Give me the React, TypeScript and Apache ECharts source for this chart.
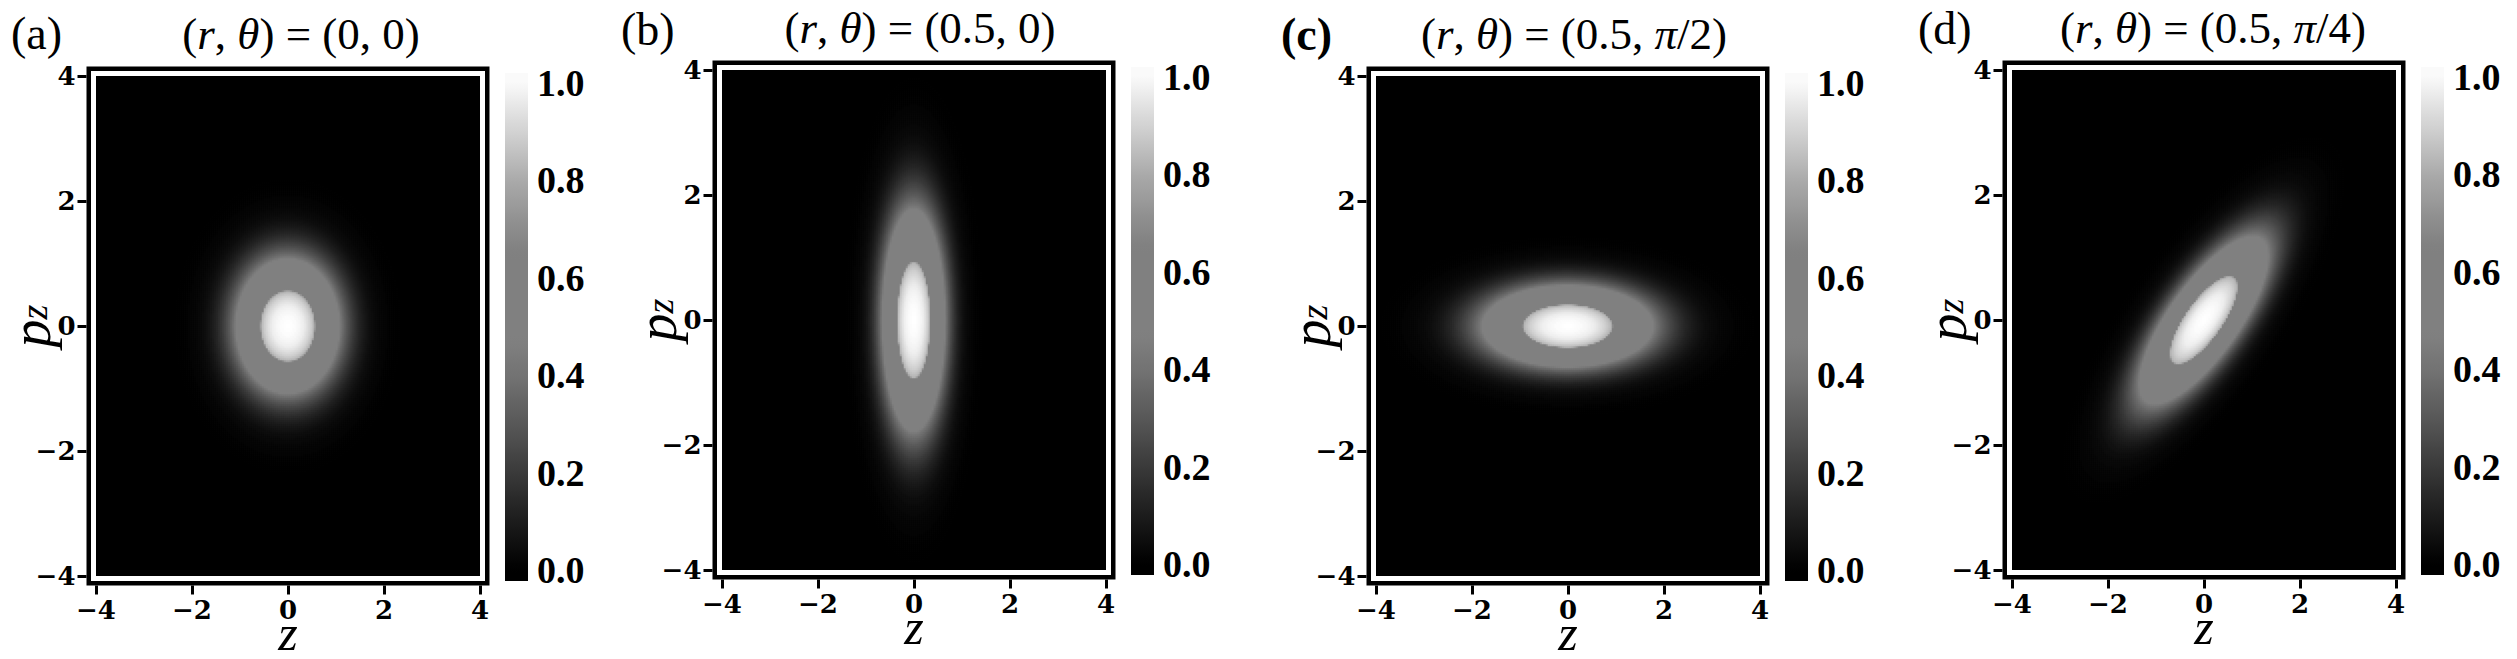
import React, { useEffect, useRef } from 'react';
import * as echarts from 'echarts';

// ---------------- data ----------------
const panelLetters = ['(a)', '(b)', '(c)', '(d)'];
const rLabels = ['0', '0.5', '0.5', '0.5'];
const thetaLabels = ['0', '0', 'π/2', 'π/4'];
const rValues = [0, 0.5, 0.5, 0.5];
const thetaValues = [0, 0, Math.PI / 2, Math.PI / 4];
const axisTicks = [-4, -2, 0, 2, 4];
const colorbarTicks = [0, 0.2, 0.4, 0.6, 0.8, 1.0];
// grey level (0-255) of the image at a given value
const imageGrayStops: [number, number][] = [
  [0, 0], [0.05, 14], [0.1, 34], [0.15, 56], [0.2, 78], [0.25, 100], [0.3, 122],
  [0.31, 128], [0.72, 128], [0.735, 180], [0.8, 208], [0.9, 238], [1.0, 255],
];
// grey level of the colour bar
const colorbarGrayStops: [number, number][] = [
  [0, 0], [0.1, 28], [0.2, 58], [0.3, 88], [0.4, 115], [0.47, 128], [0.65, 128],
  [0.7, 140], [0.8, 170], [0.9, 210], [1.0, 250],
];

// ---------------- layout ----------------
const W = 2517;
const H = 659;
const panelLeft = [96, 722, 1376, 2012];
const panelTop = [76, 70, 76, 70];
const plotW = 384;
const plotH = 500;
const NX = 192;
const NY = 250;
const titleDx = [13, 6, 6, 9];
const letterX = [11, 621, 1281, 1918];
const letterY = [33, 29, 34, 28];
const frameGap = 7.25;
const cbMin = -0.0226;
const cbMax = 1.0205;

const MATH = "'Liberation Serif', 'Times New Roman', serif";
const TICKFONT = "'DejaVu Serif', serif";

function grayAt(stops: [number, number][], v: number) {
  if (v <= stops[0][0]) return stops[0][1];
  for (let k = 1; k < stops.length; k++) {
    if (v <= stops[k][0]) {
      const [v0, g0] = stops[k - 1];
      const [v1, g1] = stops[k];
      return g0 + ((v - v0) / (v1 - v0)) * (g1 - g0);
    }
  }
  return stops[stops.length - 1][1];
}
function grayHex(g: number) {
  const h = Math.max(0, Math.min(255, Math.round(g))).toString(16).padStart(2, '0');
  return '#' + h + h + h;
}

const heatColors = Array.from({ length: 201 }, (_, k) => grayHex(grayAt(imageGrayStops, k / 200)));

function wigner(i: number) {
  const r = rValues[i];
  const th = thetaValues[i];
  const c = Math.cos(th);
  const s = Math.sin(th);
  const a = Math.exp(2 * r);
  const b = Math.exp(-2 * r);
  const out: [number, number, number][] = [];
  for (let xi = 0; xi < NX; xi++) {
    const z = -4 + ((xi + 0.5) * 8) / NX;
    for (let yi = 0; yi < NY; yi++) {
      const p = -4 + ((yi + 0.5) * 8) / NY;
      const u = z * c - p * s;
      const v = z * s + p * c;
      const w = Math.exp(-(a * u * u + b * v * v));
      if (w >= 0.004) out.push([xi, yi, w]);
    }
  }
  return out;
}

function fmtTick(v: number) {
  return v < 0 ? '\u2212' + Math.abs(v) : String(v);
}

function titleText(i: number) {
  const th = thetaLabels[i];
  let thetaPart: string;
  if (th.startsWith('π')) thetaPart = '{i|π}{n|' + th.slice(1) + ')}';
  else thetaPart = '{n|' + th + ')}';
  return '{n|(}{i|r}{n|, }{i|θ}{n|) = (' + rLabels[i] + ', }' + thetaPart;
}

function buildOption() {
  const xCats = Array.from({ length: NX }, (_, k) => String(k));
  const yCats = Array.from({ length: NY }, (_, k) => String(k));
  const grid: any[] = [];
  const xAxis: any[] = [];
  const yAxis: any[] = [];
  const series: any[] = [];
  const visualMap: any[] = [];
  const graphic: any[] = [];

  const gradStops: { offset: number; color: string }[] = [];
  const nG = 60;
  for (let k = 0; k <= nG; k++) {
    const off = k / nG;
    const v = cbMin + off * (cbMax - cbMin);
    gradStops.push({ offset: off, color: grayHex(grayAt(colorbarGrayStops, v)) });
  }

  for (let i = 0; i < 4; i++) {
    const L = panelLeft[i];
    const T = panelTop[i];
    grid.push({
      left: L, top: T, width: plotW, height: plotH,
      show: true, backgroundColor: '#000', borderWidth: 0,
      containLabel: false, outerBoundsMode: 'none',
    });
    xAxis.push({ type: 'category', gridIndex: i, data: xCats, show: false });
    xAxis.push({
      type: 'value', gridIndex: i, min: axisTicks[0], max: axisTicks[axisTicks.length - 1], interval: 2,
      position: 'bottom', offset: 9.5,
      axisLine: { show: false },
      axisTick: { show: true, length: 9, lineStyle: { width: 3, color: '#000' } },
      splitLine: { show: false },
      axisLabel: {
        margin: 12, color: '#000', fontFamily: TICKFONT, fontWeight: 'bold', fontSize: 26, lineHeight: 24,
        formatter: (v: number) => fmtTick(v),
      },
      name: 'z', nameLocation: 'middle', nameGap: 35, nameMoveOverlap: false,
      nameTextStyle: { fontFamily: MATH, fontStyle: 'italic', fontSize: 50, color: '#000', lineHeight: 24 },
    });
    yAxis.push({ type: 'category', gridIndex: i, data: yCats, show: false });
    yAxis.push({
      type: 'value', gridIndex: i, min: axisTicks[0], max: axisTicks[axisTicks.length - 1], interval: 2,
      position: 'left', offset: 9.5,
      axisLine: { show: false },
      axisTick: { show: true, length: 9, lineStyle: { width: 3, color: '#000' } },
      splitLine: { show: false },
      axisLabel: {
        margin: 11, color: '#000', fontFamily: TICKFONT, fontWeight: 'bold', fontSize: 26,
        formatter: (v: number) => fmtTick(v),
      },
      name: '{p|p}{s|z}', nameLocation: 'middle', nameGap: 34, nameMoveOverlap: false,
      nameTextStyle: {
        color: '#000',
        rich: {
          p: { fontFamily: MATH, fontStyle: 'italic', fontSize: 56, lineHeight: 44, color: '#000' },
          s: { fontFamily: MATH, fontStyle: 'italic', fontSize: 38, lineHeight: 12, verticalAlign: 'bottom', color: '#000' },
        },
      },
    });
    series.push({
      type: 'heatmap', xAxisIndex: 2 * i, yAxisIndex: 2 * i, data: wigner(i),
      progressive: 0, silent: true, emphasis: { disabled: true },
      itemStyle: { borderWidth: 0 },
    });
    visualMap.push({
      type: 'continuous', seriesIndex: i, min: 0, max: 1, show: false,
      inRange: { color: heatColors },
    });

    // frame (offset spine box)
    graphic.push({
      type: 'rect', silent: true, z: 100,
      shape: { x: L - frameGap, y: T - frameGap, width: plotW + 2 * frameGap, height: plotH + 2 * frameGap },
      style: { fill: 'none', stroke: '#000', lineWidth: 4.5 },
    });
    // panel letter
    graphic.push({
      type: 'text', silent: true, z: 100, x: letterX[i], y: letterY[i],
      style: {
        text: panelLetters[i], fontFamily: MATH, fontSize: 46, fontWeight: i === 2 ? 'bold' : 'normal',
        fill: '#000', textAlign: 'left', align: 'left', textVerticalAlign: 'middle', verticalAlign: 'middle',
      },
    });
    // title
    graphic.push({
      type: 'text', silent: true, z: 100, x: L + plotW / 2 + titleDx[i], y: T - 42,
      style: {
        text: titleText(i), fill: '#000',
        textAlign: 'center', align: 'center', textVerticalAlign: 'middle', verticalAlign: 'middle',
        rich: {
          n: { fontFamily: MATH, fontSize: 45, color: '#000' },
          i: { fontFamily: MATH, fontSize: 45, fontStyle: 'italic', color: '#000' },
        },
      },
    });
  }

  // colour bars
  for (let i = 0; i < 4; i++) {
    const L = panelLeft[i];
    const T = panelTop[i];
    grid.push({
      left: L + 409, top: T - 3, width: 23, height: 508,
      show: true, borderWidth: 0,
      backgroundColor: new echarts.graphic.LinearGradient(0, 1, 0, 0, gradStops),
      containLabel: false, outerBoundsMode: 'none',
    });
    xAxis.push({ type: 'value', gridIndex: 4 + i, show: false, min: 0, max: 1 });
    yAxis.push({
      type: 'value', gridIndex: 4 + i, min: cbMin, max: cbMax, position: 'right',
      axisLine: { show: false }, axisTick: { show: false }, splitLine: { show: false },
      axisLabel: {
        customValues: colorbarTicks, margin: 9, color: '#000',
        fontFamily: MATH, fontWeight: 'bold', fontSize: 38,
        formatter: (v: number) => v.toFixed(1),
      },
    });
  }

  return {
    animation: false,
    backgroundColor: '#fff',
    grid, xAxis, yAxis, series, visualMap, graphic,
  };
}

export default function App() {
  const ref = useRef<HTMLDivElement>(null);
  useEffect(() => {
    document.body.style.margin = '0';
    const chart = echarts.init(ref.current!, null, { renderer: 'svg', width: W, height: H });
    chart.setOption(buildOption() as any);
    return () => chart.dispose();
  }, []);
  return <div ref={ref} style={{ width: W, height: H }} />;
}
